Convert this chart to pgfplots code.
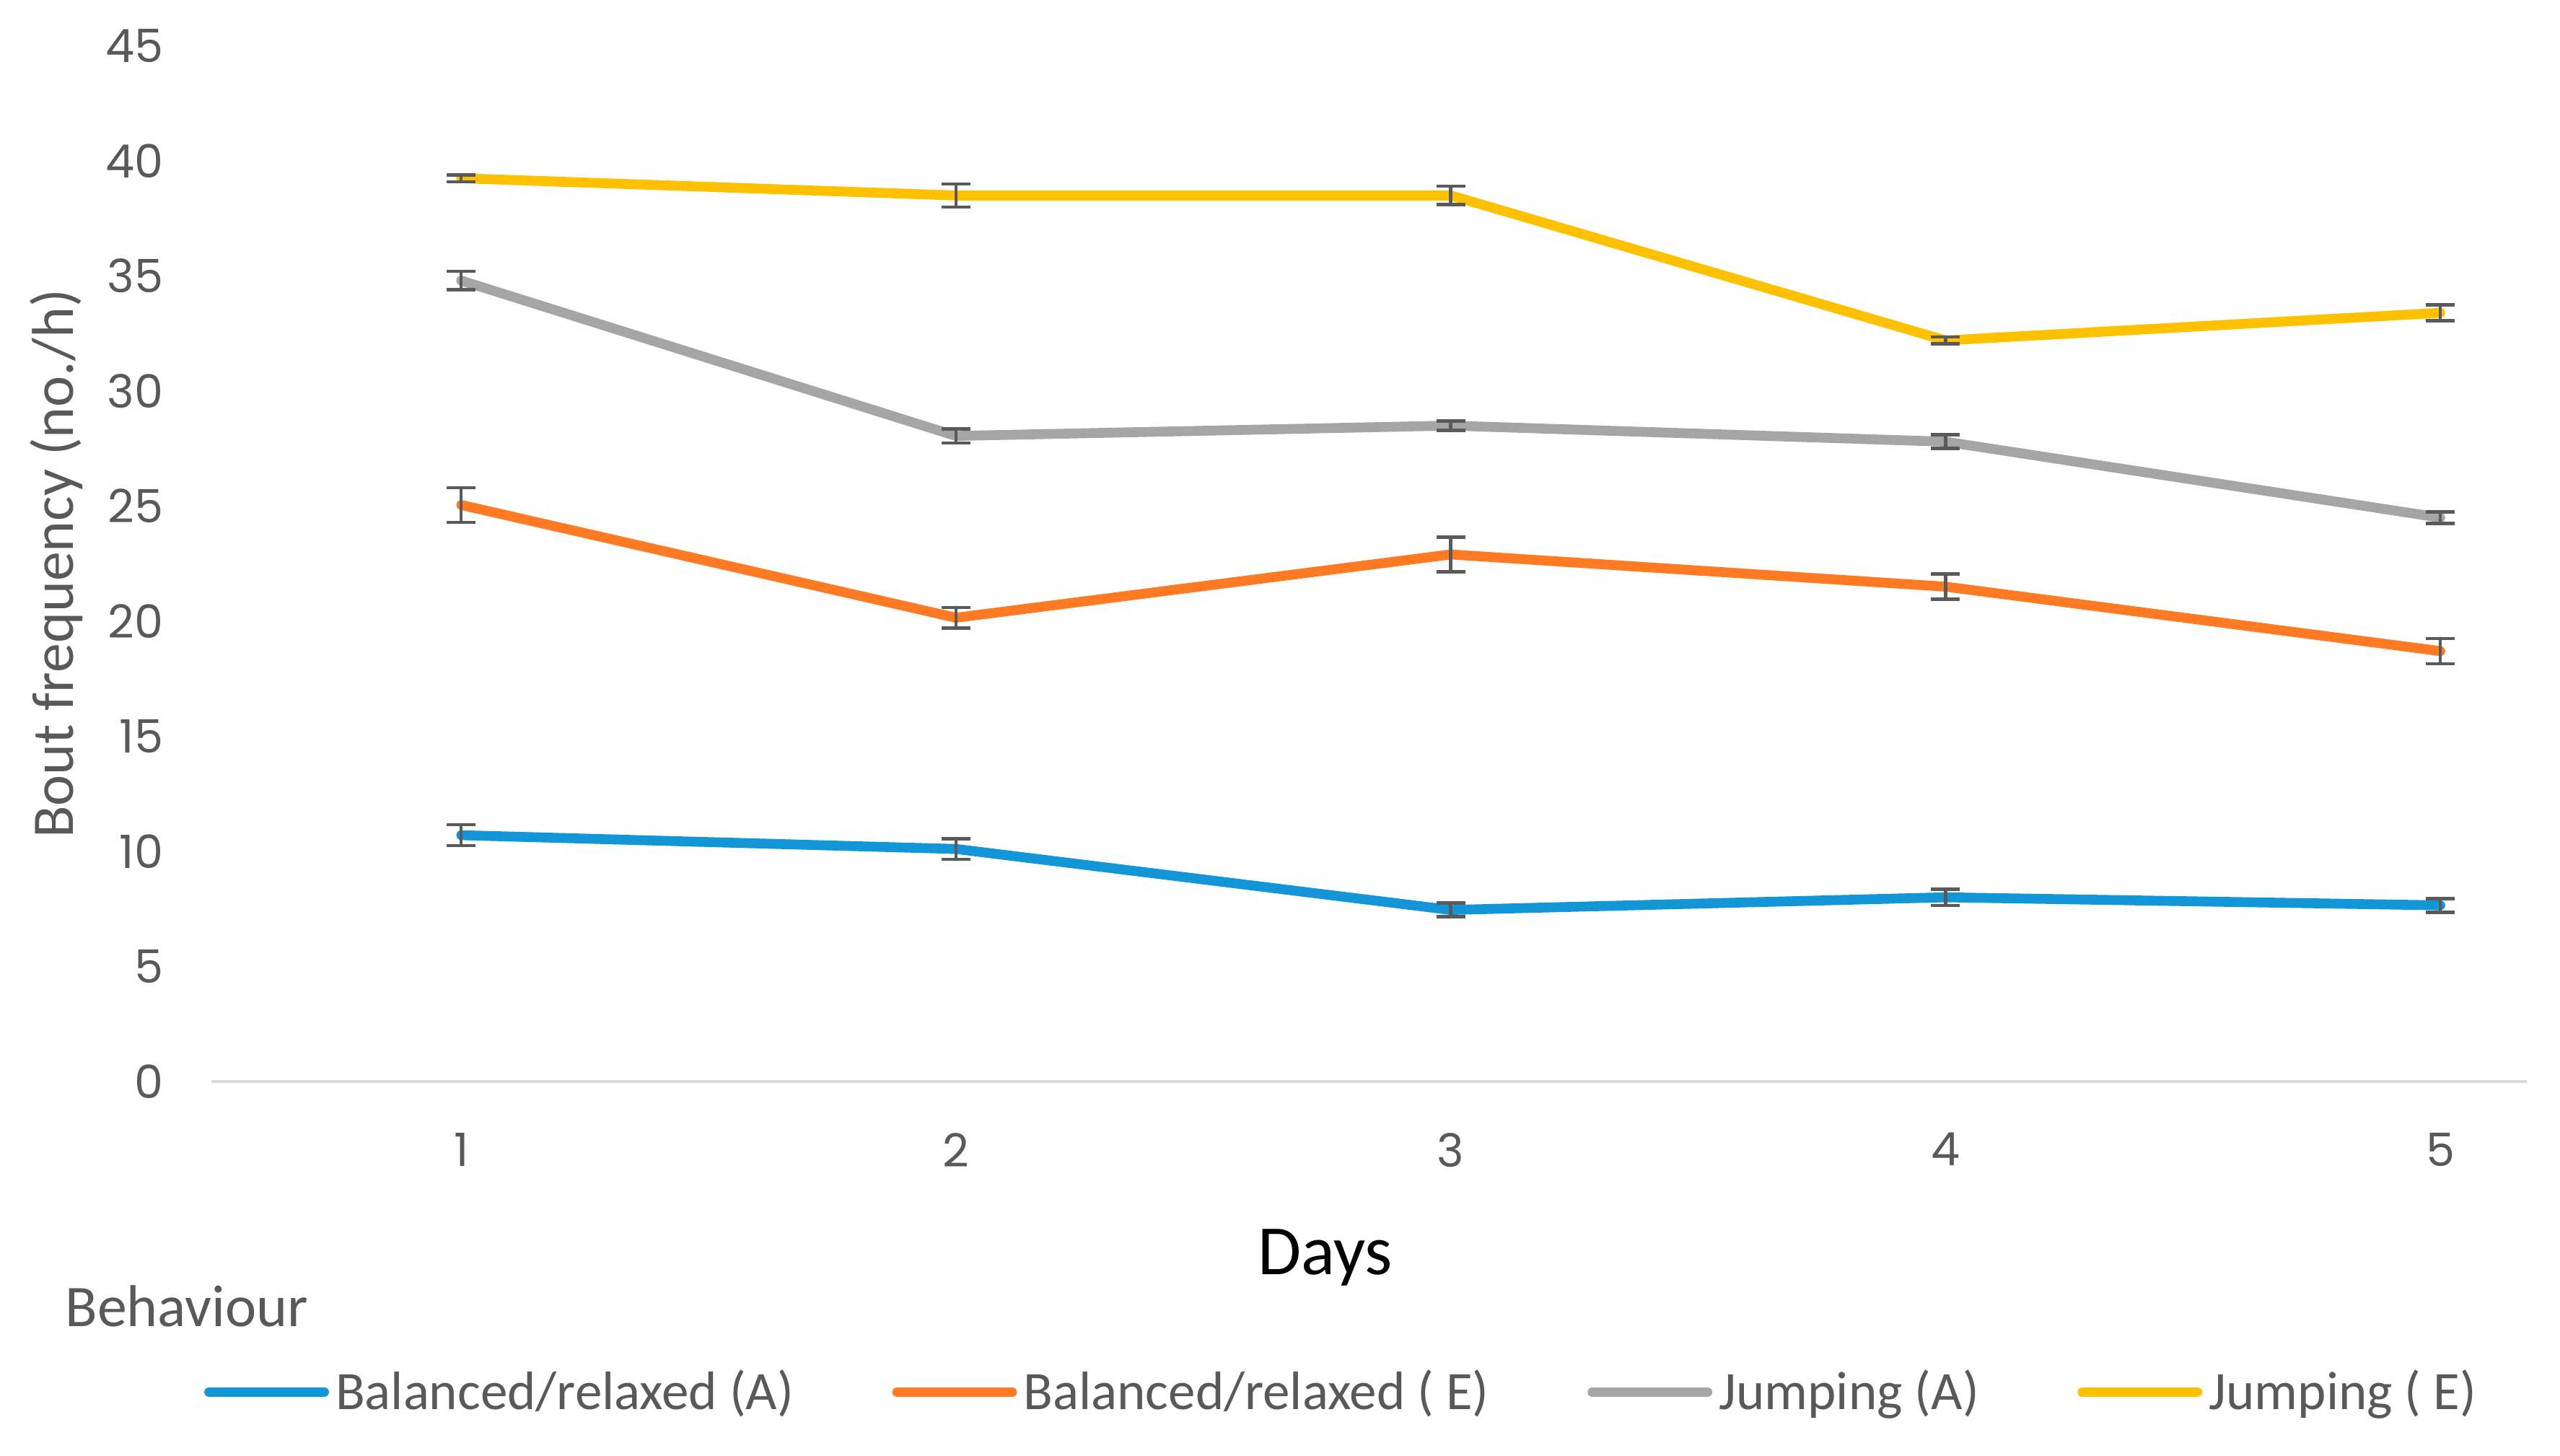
\documentclass[border=0pt]{standalone}
\usepackage{pgfplots}
\pgfplotsset{compat=1.18}
\usepackage{fontspec}
\setmainfont{Carlito}
\newfontfamily\tickfont{Poppins}

\definecolor{cblue}{HTML}{1396D8}
\definecolor{corange}{HTML}{FF7A22}
\definecolor{cgray}{HTML}{A5A5A5}
\definecolor{cyellow}{HTML}{FFC000}
\definecolor{txtgray}{HTML}{595959}
\definecolor{errgray}{HTML}{5A5A5A}
\definecolor{axgray}{HTML}{D9D9D9}

\pgfplotsset{
  errstyle/.style={
    error bars/.cd, y dir=both, y explicit,
    error bar style={draw=errgray, line width=1pt},
    error mark options={draw=errgray, line width=1pt, mark size=4.4pt, rotate=90}
  }
}

\begin{document}
\begin{tikzpicture}
\path[use as bounding box] (0,0) rectangle (780pt,443.5pt);
\begin{axis}[
  at={(64.4pt,114pt)}, anchor=south west,
  scale only axis, width=705.5pt, height=315.5pt,
  xmin=0.495, xmax=5.175, ymin=0, ymax=45,
  xtick={1,2,3,4,5}, ytick={0,5,...,45},
  axis x line*=bottom, axis y line*=left,
  x axis line style={draw=axgray, line width=1pt, -},
  y axis line style={draw=none},
  major tick length=0pt,
  tick label style={font=\tickfont\fontsize{14}{16}\selectfont, text=txtgray, inner sep=0pt},
  yticklabel style={anchor=east, xshift=-14.5pt},
  xticklabel style={anchor=north, yshift=-15.5pt},
  /pgf/number format/assume math mode=true,
  ylabel={Bout frequency (no./h)},
  ylabel style={at={(axis description cs:-0.067,0.5)}, anchor=center, font=\fontsize{18}{20}\selectfont, text=txtgray},
  xlabel={Days},
  xlabel style={at={(axis description cs:0.481,-0.170)}, anchor=center, font=\fontsize{21.5}{24}\selectfont, text=black},
  clip=false,
  legend columns=4,
  legend style={at={(axis description cs:0.489,-0.30)}, anchor=center, draw=none, fill=none,
    font=\fontsize{16.5}{18}\selectfont, text=txtgray,
    /tikz/every even column/.append style={column sep=28pt}},
  legend cell align=left,
  legend image code/.code={\draw[#1, line cap=round] (0pt,0pt) -- (35pt,0pt);},
  every axis plot/.append style={line width=3pt, line join=round, line cap=round, mark=none},
]
\addplot[cblue, errstyle] coordinates {
  (1,10.7) +- (0,0.45)
  (2,10.1) +- (0,0.45)
  (3,7.45) +- (0,0.3)
  (4,8.0)  +- (0,0.35)
  (5,7.65) +- (0,0.3)
};
\addlegendentry{Balanced/relaxed (A)}
\addplot[corange, errstyle] coordinates {
  (1,25.05) +- (0,0.75)
  (2,20.15) +- (0,0.45)
  (3,22.9)  +- (0,0.75)
  (4,21.5)  +- (0,0.55)
  (5,18.7)  +- (0,0.55)
};
\addlegendentry{Balanced/relaxed ( E)}
\addplot[cgray, errstyle] coordinates {
  (1,34.8) +- (0,0.4)
  (2,28.05) +- (0,0.3)
  (3,28.5) +- (0,0.2)
  (4,27.8) +- (0,0.3)
  (5,24.5) +- (0,0.25)
};
\addlegendentry{Jumping (A)}
\addplot[cyellow, errstyle] coordinates {
  (1,39.25) +- (0,0.15)
  (2,38.5)  +- (0,0.5)
  (3,38.5)  +- (0,0.4)
  (4,32.2)  +- (0,0.15)
  (5,33.4)  +- (0,0.35)
};
\addlegendentry{Jumping ( E)}
\node[anchor=center, text=txtgray, font=\fontsize{18}{20}\selectfont] at (axis description cs:-0.0106,-0.217) {Behaviour};
\end{axis}
\end{tikzpicture}
\end{document}
